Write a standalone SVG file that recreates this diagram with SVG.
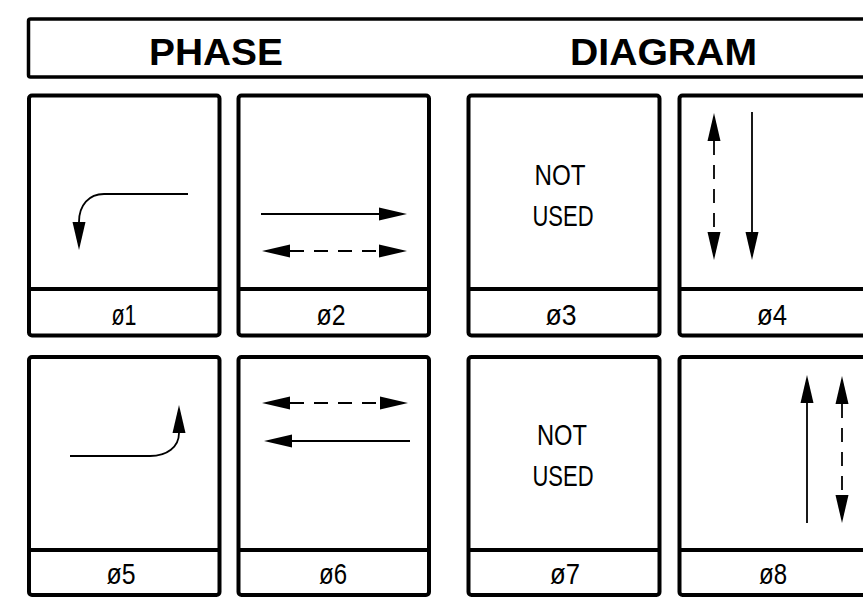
<svg xmlns="http://www.w3.org/2000/svg" width="863" height="598" viewBox="0 0 863 598">
  <style>
    .frame { fill: none; stroke: #000; stroke-width: 4; }
    .div { stroke: #000; stroke-width: 4; }
    .title { font-family: "Liberation Sans", Arial, sans-serif; font-weight: bold; font-size: 37px; fill: #000; }
    .lbl { font-family: "Liberation Sans", Arial, sans-serif; font-size: 30px; fill: #000; text-anchor: middle; }
    .ln { fill: none; stroke: #000; stroke-width: 1.8; }
    .dash { stroke-dasharray: 14 10; }
  </style>
  <defs>
    <marker id="ah" viewBox="0 -7 28 14" markerWidth="28" markerHeight="14" refX="0" refY="0" markerUnits="userSpaceOnUse" orient="auto-start-reverse">
      <path d="M0,-6.5 L28,0 L0,6.5 z" fill="#000"/>
    </marker>
  </defs>
  <rect width="863" height="598" fill="#fff"/>

  <g id="header">
    <rect class="frame" x="28.5" y="19" width="900" height="58" rx="2" style="stroke-width:3.5"/>
    <text class="title" x="149" y="65" textLength="134" lengthAdjust="spacingAndGlyphs">PHASE</text>
    <text class="title" x="570" y="65" textLength="187" lengthAdjust="spacingAndGlyphs">DIAGRAM</text>
  </g>

  <g id="phase1">
    <rect class="frame" x="29" y="95.5" width="190.5" height="240" rx="3"/>
    <line class="div" x1="29" y1="289" x2="219.5" y2="289"/>
    <text class="lbl" x="124" y="325" textLength="25" lengthAdjust="spacingAndGlyphs">ø1</text>
  </g>
  <g id="phase2">
    <rect class="frame" x="238.5" y="95.5" width="190.5" height="240" rx="3"/>
    <line class="div" x1="238.5" y1="289" x2="429" y2="289"/>
    <text class="lbl" x="331" y="325" textLength="29" lengthAdjust="spacingAndGlyphs">ø2</text>
  </g>
  <g id="phase3">
    <rect class="frame" x="468.5" y="95.5" width="191" height="240" rx="3"/>
    <line class="div" x1="468.5" y1="289" x2="659.5" y2="289"/>
    <text class="lbl" x="561" y="325" textLength="31" lengthAdjust="spacingAndGlyphs">ø3</text>
    <text class="lbl" x="560" y="185" textLength="51" lengthAdjust="spacingAndGlyphs">NOT</text>
    <text class="lbl" x="563" y="226" textLength="61" lengthAdjust="spacingAndGlyphs">USED</text>
  </g>
  <g id="phase4">
    <rect class="frame" x="679.5" y="95.5" width="260" height="240" rx="3"/>
    <line class="div" x1="679.5" y1="289" x2="880" y2="289"/>
    <text class="lbl" x="772" y="325" textLength="30" lengthAdjust="spacingAndGlyphs">ø4</text>
  </g>

  <g id="phase5">
    <rect class="frame" x="29" y="357" width="190.5" height="238" rx="3"/>
    <line class="div" x1="29" y1="550" x2="219.5" y2="550"/>
    <text class="lbl" x="121" y="584" textLength="29" lengthAdjust="spacingAndGlyphs">ø5</text>
  </g>
  <g id="phase6">
    <rect class="frame" x="238.5" y="357" width="190.5" height="238" rx="3"/>
    <line class="div" x1="238.5" y1="550" x2="429" y2="550"/>
    <text class="lbl" x="333" y="584" textLength="28" lengthAdjust="spacingAndGlyphs">ø6</text>
  </g>
  <g id="phase7">
    <rect class="frame" x="468.5" y="357" width="191" height="238" rx="3"/>
    <line class="div" x1="468.5" y1="550" x2="659.5" y2="550"/>
    <text class="lbl" x="565" y="584" textLength="30" lengthAdjust="spacingAndGlyphs">ø7</text>
    <text class="lbl" x="562" y="445" textLength="50" lengthAdjust="spacingAndGlyphs">NOT</text>
    <text class="lbl" x="563" y="486" textLength="61" lengthAdjust="spacingAndGlyphs">USED</text>
  </g>
  <g id="phase8">
    <rect class="frame" x="679.5" y="357" width="260" height="238" rx="3"/>
    <line class="div" x1="679.5" y1="550" x2="880" y2="550"/>
    <text class="lbl" x="773" y="584" textLength="28" lengthAdjust="spacingAndGlyphs">ø8</text>
  </g>

  <g id="connectors">
    <path class="ln" d="M188,194 H104 C89,194 79,205 79,222" stroke-width="2.2" marker-end="url(#ah)"/>
    <path class="ln" d="M261,214 H379" marker-end="url(#ah)"/>
    <path class="ln dash" d="M290,251 H379" marker-start="url(#ah)" marker-end="url(#ah)"/>
    <path class="ln dash" d="M714,141 V232" marker-start="url(#ah)" marker-end="url(#ah)"/>
    <path class="ln" d="M752,112 V232" marker-end="url(#ah)"/>
    <path class="ln" d="M70,456 H150 C167,456 179,447 179,433" stroke-width="2.2" marker-end="url(#ah)"/>
    <path class="ln dash" d="M290,403 H380" marker-start="url(#ah)" marker-end="url(#ah)"/>
    <path class="ln" d="M410,441 H292" marker-end="url(#ah)"/>
    <path class="ln" d="M807,523 V403" marker-end="url(#ah)"/>
    <path class="ln dash" d="M842,404 V495" marker-start="url(#ah)" marker-end="url(#ah)"/>
  </g>
</svg>
